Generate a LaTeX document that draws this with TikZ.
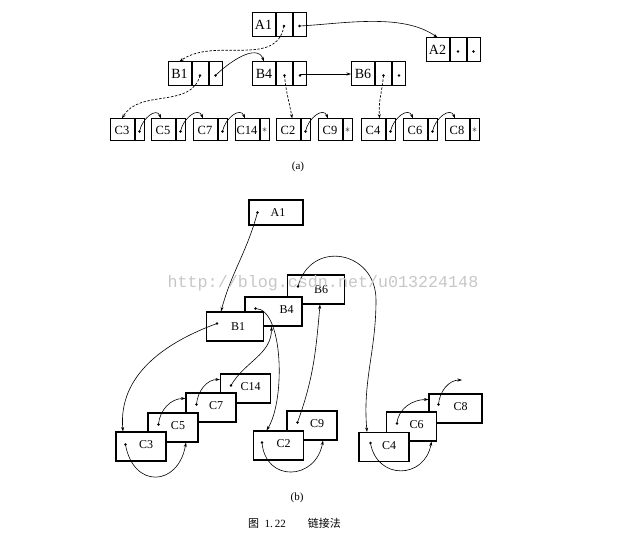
\documentclass[tikz,border=0pt]{standalone}
\usepackage{fontspec}
\setmainfont{Liberation Serif}
\newfontfamily\cjk{Noto Sans CJK SC}
\newfontfamily\wmfont{Liberation Mono}
\usepackage{tikz}
\usetikzlibrary{positioning}
\usetikzlibrary{arrows.meta}

\begin{document}
\begin{tikzpicture}[x=1pt,y=1pt,>={Stealth[length=4.5pt,width=3pt]},
  namecell/.style={draw,line width=1pt,minimum width=23pt,minimum height=24pt,inner sep=0pt,font=\fontsize{14}{14}\selectfont},
  midcell/.style={draw,line width=1pt,minimum width=16pt,minimum height=24pt,inner sep=0pt},
  endcell/.style={draw,line width=1pt,minimum width=13pt,minimum height=24pt,inner sep=0pt},
  cname/.style={draw,line width=1pt,minimum width=24pt,minimum height=22pt,inner sep=0pt,font=\fontsize{12.5}{13}\selectfont},
  cptr/.style={draw,line width=1pt,minimum width=9pt,minimum height=22pt,inner sep=0pt},
  dotcell/.style={path picture={\fill ([yshift=-1.5pt]path picture bounding box.center) circle (1.3pt);}},
  bbox/.style={draw,fill=white,line width=1.1pt,minimum width=50pt,minimum height=29pt,inner sep=0pt},
  box/.style={bbox,label={[lbl]center:#1}},
  lbl/.style={font=\fontsize{12}{12}\selectfont,inner sep=0pt,xshift=5pt,yshift=1.5pt},
  dot/.style={circle,fill,inner sep=0pt,minimum size=2.8pt},
  ptr/.style={->,line width=0.6pt},
  dashptr/.style={->,line width=0.7pt,dash pattern=on 2.4pt off 1.6pt},
  watermark/.style={text=black!22,font=\wmfont\fontsize{16.7}{17}\selectfont,inner sep=0pt}]
\useasboundingbox (0,0) rectangle (629,-540);

  % (a) records
  \node[namecell] (A1) at (263.5,-24.5) {A1};
  \node[midcell,dotcell,right=0pt of A1] (A1m) {};
  \node[endcell,dotcell,right=0pt of A1m] (A1r) {};
  \node[namecell] (A2) at (437.5,-50) {A2};
  \node[midcell,dotcell,right=0pt of A2] (A2m) {};
  \node[endcell,dotcell,right=0pt of A2m] (A2r) {};
  \node[namecell] (B1) at (179.5,-74) {B1};
  \node[midcell,dotcell,right=0pt of B1] (B1m) {};
  \node[endcell,dotcell,right=0pt of B1m] (B1r) {};
  \node[namecell] (B4) at (264,-74) {B4};
  \node[midcell,dotcell,right=0pt of B4] (B4m) {};
  \node[endcell,dotcell,right=0pt of B4m] (B4r) {};
  \node[namecell] (B6) at (363,-74) {B6};
  \node[midcell,dotcell,right=0pt of B6] (B6m) {};
  \node[endcell,dotcell,right=0pt of B6m] (B6r) {};

  \node[cname] (C3) at (122,-130) {C3};
  \node[cptr,dotcell,right=0pt of C3] (C3p) {};
  \node[cname] (C5) at (163,-130) {C5};
  \node[cptr,dotcell,right=0pt of C5] (C5p) {};
  \node[cname] (C7) at (205,-130) {C7};
  \node[cptr,dotcell,right=0pt of C7] (C7p) {};
  \node[cname] (C14) at (247,-130) {C14};
  \node[cptr,right=0pt of C14] (C14p) {$\ast$};
  \node[cname] (C2) at (288,-130) {C2};
  \node[cptr,dotcell,right=0pt of C2] (C2p) {};
  \node[cname] (C9) at (330,-130) {C9};
  \node[cptr,right=0pt of C9] (C9p) {$\ast$};
  \node[cname] (C4) at (373,-130) {C4};
  \node[cptr,dotcell,right=0pt of C4] (C4p) {};
  \node[cname] (C6) at (415,-130) {C6};
  \node[cptr,dotcell,right=0pt of C6] (C6p) {};
  \node[cname] (C8) at (457,-130) {C8};
  \node[cptr,right=0pt of C8] (C8p) {$\ast$};

  \draw[ptr] ([yshift=-1.5pt]A1r.center) to[out=3,in=145,looseness=0.8] (A2.north);
  \draw[dashptr] ([yshift=-1.5pt]A1m.center) to[out=-100,in=35] (B1.north);
  \draw[ptr] ([yshift=-1.5pt]B1r.center) to[out=45,in=110] (B4.north);
  \draw[ptr] (B4r.center) -- (B6);
  \draw[dashptr] ([yshift=-1.5pt]B1m.center) to[out=-105,in=60] (C3.north);
  \draw[dashptr] ([yshift=-1.5pt]B4m.center) to[out=-85,in=100] (C2.70);
  \draw[dashptr] ([yshift=-1.5pt]B6m.center) to[out=-95,in=95] (C4.60);
  \draw[ptr] ([yshift=-1.5pt]C3p.center) to[out=80,in=110,looseness=1.3] (C5.100);
  \draw[ptr] ([yshift=-1.5pt]C5p.center) to[out=80,in=110,looseness=1.3] (C7.100);
  \draw[ptr] ([yshift=-1.5pt]C7p.center) to[out=80,in=110,looseness=1.3] (C14.100);
  \draw[ptr] ([yshift=-1.5pt]C2p.center) to[out=80,in=110,looseness=1.3] (C9.100);
  \draw[ptr] ([yshift=-1.5pt]C4p.center) to[out=80,in=110,looseness=1.3] (C6.100);
  \draw[ptr] ([yshift=-1.5pt]C6p.center) to[out=80,in=110,looseness=1.3] (C8.100);
  \node[font=\fontsize{11}{11}\selectfont] (capa) at (298,-167) {(a)};

  % (b) boxes, back to front
  \node[bbox,minimum width=54pt,minimum height=25pt,label={[lbl,xshift=-3pt,yshift=-1.5pt]center:A1}] (bA1) at (276,-212.5) {};
  \node[dot] (bA1d) at ([xshift=9pt]bA1.west) {};
  \node[bbox,minimum width=57pt,label={[lbl,yshift=-2pt]center:B6}] (bB6) at (316,-289.5) {};
  \node[dot] (bB6d) at ([xshift=11pt,yshift=3pt]bB6.west) {};
  \node[bbox,minimum width=57pt,label={[lbl,xshift=8pt]center:B4}] (bB4) at (273.5,-311.5) {};
  \node[dot] (bB4d) at ([xshift=11pt,yshift=3pt]bB4.west) {};
  \node[bbox,minimum width=57pt,label={[lbl,xshift=-2pt,yshift=-1.5pt]center:B1}] (bB1) at (235,-326.5) {};
  \node[dot] (bB1d) at ([xshift=11pt,yshift=3pt]bB1.west) {};
  \node[box=C14] (bC14) at (245.5,-388.5) {};
  \node[dot] (bC14d) at ([xshift=11pt,yshift=3pt]bC14.west) {};
  \node[box=C7] (bC7) at (211,-407.5) {};
  \node[dot] (bC7d) at ([xshift=11pt,yshift=3pt]bC7.west) {};
  \node[box=C5] (bC5) at (173,-427.5) {};
  \node[dot] (bC5d) at ([xshift=11pt,yshift=3pt]bC5.west) {};
  \node[box=C3] (bC3) at (141,-446.5) {};
  \node[dot] (bC3d) at ([xshift=10pt,yshift=2pt]bC3.west) {};
  \node[box=C9] (bC9) at (312,-425.5) {};
  \node[dot] (bC9d) at ([xshift=11pt,yshift=3pt]bC9.west) {};
  \node[box=C2] (bC2) at (278.5,-445.5) {};
  \node[dot] (bC2d) at ([xshift=9pt,yshift=3pt]bC2.west) {};
  \node[box=C8,minimum width=53pt] (bC8) at (455.5,-408.5) {};
  \node[dot] (bC8d) at ([xshift=10pt,yshift=4pt]bC8.west) {};
  \node[box=C6] (bC6) at (411.5,-426.5) {};
  \node[dot] (bC6d) at ([xshift=11pt,yshift=3pt]bC6.west) {};
  \node[box=C4] (bC4) at (384,-447) {};
  \node[dot] (bC4d) at ([xshift=12pt,yshift=4pt]bC4.west) {};
  \coordinate (B6turn) at (376,-300);
  \coordinate (C8next) at (462,-380);

  \draw[ptr] (bA1d.center) to[out=-105,in=75] ([xshift=-14pt]bB1.north);
  \draw[ptr] (bB1d.center) to[out=200,in=95] ([xshift=-18pt]bC3.north);
  \draw[ptr] (bC3d.center) to[out=-80,in=-100,looseness=1.9] ([xshift=13pt]bC5.south);
  \draw[ptr] (bC5d.center) to[out=85,in=180] ([yshift=9pt]bC7.west);
  \draw[ptr] (bC7d.center) to[out=85,in=180] ([yshift=9pt]bC14.west);
  \draw[ptr] (bC14d.center) to[out=60,in=-90] ([xshift=-2pt]bB4.south);
  \draw[ptr] (bB4d.center) .. controls +(28,0) and +(19,30) .. ([xshift=-12pt]bC2.north);
  \draw[ptr] (bC2d.center) to[out=-85,in=-100,looseness=1.7] ([xshift=11pt]bC9.south);
  \draw[ptr] (bC9d.center) to[out=70,in=-95] ([xshift=4pt]bB6.south);
  \draw[ptr] (bB6d.center) to[out=75,in=90,looseness=1.6] (B6turn)
    to[out=-90,in=95] ([xshift=-17pt]bC4.north);
  \draw[ptr] (bC4d.center) to[out=-80,in=-100,looseness=1.6] ([xshift=20pt]bC6.south);
  \draw[ptr] (bC6d.center) to[out=85,in=180] ([yshift=9pt]bC8.west);
  \draw[ptr] (bC8d.center) to[out=85,in=180] (C8next);

  \node[watermark,anchor=base] (wm) at (323,-287) {http://blog.csdn.net/u013224148};
  \node[font=\fontsize{11}{11}\selectfont] (capb) at (297,-498) {(b)};
  \node[font=\fontsize{11}{11}\selectfont] (fig) at (294.5,-523) {{\cjk 图}\enspace 1.\,22\qquad{\cjk 链接法}};
\end{tikzpicture}
\end{document}
